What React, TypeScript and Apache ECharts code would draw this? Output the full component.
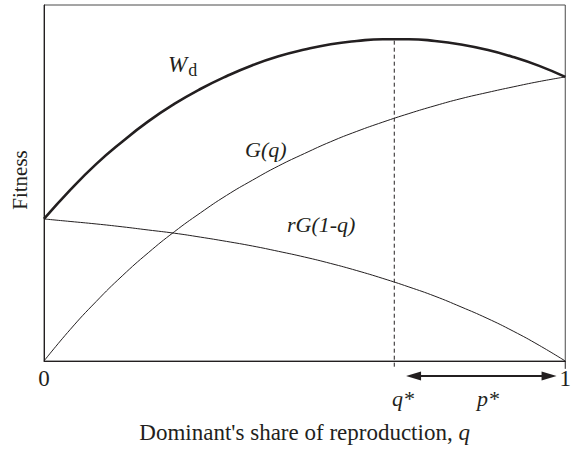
import React, { useEffect, useRef } from "react";
import * as echarts from "echarts";

// Dominant's share of reproduction q (x positions of the sampled points)
const Q = [0, 0.05, 0.1, 0.15, 0.2, 0.25, 0.3, 0.35, 0.4, 0.45, 0.5, 0.55, 0.6, 0.65, 0.7, 0.75, 0.8, 0.85, 0.9, 0.95, 1];
// G(q)
const G_VALUES = [0, 0.088, 0.167, 0.239, 0.304, 0.363, 0.416, 0.465, 0.508, 0.548, 0.583, 0.616, 0.645, 0.671, 0.695, 0.717, 0.737, 0.754, 0.770, 0.785, 0.798];
// rG(1-q)
const RG_VALUES = [0.399, 0.392, 0.385, 0.377, 0.368, 0.359, 0.348, 0.336, 0.323, 0.308, 0.292, 0.274, 0.254, 0.232, 0.208, 0.182, 0.152, 0.120, 0.084, 0.044, 0];
// W_d
const WD_VALUES = [0.399, 0.480, 0.553, 0.616, 0.673, 0.722, 0.764, 0.800, 0.831, 0.856, 0.875, 0.890, 0.899, 0.904, 0.904, 0.899, 0.889, 0.874, 0.854, 0.829, 0.798];
const Q_STAR = 0.672;
const WD_STAR = 0.905;
const X_TICK_LABELS = ["0", "1"];
// p* double arrow (centres of the two arrow heads, in q units)
const ARROW_FROM = 0.709;
const ARROW_TO = 0.969;
const ARROW_LEVEL = -0.042;

const INK = "#231f20";
const SERIF = "'Liberation Serif', 'DejaVu Serif', serif";

export default function App() {
  const ref = useRef<HTMLDivElement>(null);
  useEffect(() => {
    if (!ref.current) return;
    const chart = echarts.init(ref.current, undefined, { renderer: "svg" });
    const pair = (ys: number[]) => Q.map((q, i) => [q, ys[i]]);
    chart.setOption({
      animation: false,
      backgroundColor: "#ffffff",
      grid: { left: 44, right: 3, top: 5, bottom: 87, show: true, borderColor: "#4a4a4a", borderWidth: 1 },
      xAxis: {
        type: "value",
        min: 0,
        max: 1,
        interval: 1,
        name: "Dominant's share of reproduction, {i|q}",
        nameLocation: "middle",
        nameGap: 60,
        nameTextStyle: {
          fontFamily: SERIF,
          fontSize: 23,
          color: INK,
          rich: { i: { fontFamily: SERIF, fontSize: 23, fontStyle: "italic", color: INK } },
        },
        axisLine: { show: true, lineStyle: { color: INK, width: 1 } },
        axisTick: { show: false },
        splitLine: { show: false },
        axisLabel: {
          formatter: (v: number) => (v === 0 ? X_TICK_LABELS[0] : v === 1 ? X_TICK_LABELS[1] : ""),
          fontFamily: SERIF,
          fontSize: 23,
          color: INK,
          margin: 6,
          showMaxLabel: true,
          showMinLabel: true,
        },
      },
      yAxis: {
        type: "value",
        min: 0,
        max: 1,
        interval: 1,
        axisLine: { show: true, lineStyle: { color: INK, width: 1 } },
        axisTick: { show: false },
        axisLabel: { show: false },
        splitLine: { show: false },
      },
      series: [
        {
          name: "Wd",
          type: "line",
          smooth: true,
          showSymbol: false,
          data: pair(WD_VALUES),
          lineStyle: { color: INK, width: 2.6 },
        },
        {
          name: "G(q)",
          type: "line",
          smooth: true,
          showSymbol: false,
          data: pair(G_VALUES),
          lineStyle: { color: INK, width: 1 },
        },
        {
          name: "rG(1-q)",
          type: "line",
          smooth: true,
          showSymbol: false,
          data: pair(RG_VALUES),
          lineStyle: { color: INK, width: 1 },
        },
        {
          name: "qstar",
          type: "line",
          showSymbol: false,
          clip: false,
          data: [[Q_STAR, -0.016], [Q_STAR, WD_STAR]],
          lineStyle: { color: INK, width: 1, type: [4, 3] },
        },
        {
          name: "righttick",
          type: "line",
          showSymbol: false,
          clip: false,
          data: [[1, 0], [1, -0.022]],
          lineStyle: { color: INK, width: 1 },
        },
        {
          name: "pstar",
          type: "line",
          clip: false,
          showSymbol: true,
          symbol: "triangle",
          symbolSize: [9, 15],
          itemStyle: { color: INK },
          lineStyle: { color: INK, width: 2 },
          data: [
            { value: [ARROW_FROM, ARROW_LEVEL], symbolRotate: 90 },
            { value: [ARROW_TO, ARROW_LEVEL], symbolRotate: -90 },
          ],
        },
      ],
      graphic: [
        {
          type: "text",
          x: 20,
          y: 180,
          rotation: Math.PI / 2,
          style: {
            text: "Fitness",
            fontFamily: SERIF,
            fontSize: 21,
            fill: INK,
            textAlign: "center",
            textVerticalAlign: "middle",
          },
        },
        {
          type: "text",
          left: 168,
          top: 53,
          style: {
            text: "{w|W}{d|d}",
            rich: {
              w: { fontFamily: SERIF, fontSize: 23, fontStyle: "italic", fill: INK },
              d: { fontFamily: SERIF, fontSize: 18, fill: INK, padding: [11, 0, 0, 1] },
            },
          },
        },
        {
          type: "text",
          left: 245,
          top: 138,
          style: { text: "G(q)", fontFamily: SERIF, fontSize: 22, fontStyle: "italic", fill: INK },
        },
        {
          type: "text",
          left: 287,
          top: 213,
          style: { text: "rG(1-q)", fontFamily: SERIF, fontSize: 22, fontStyle: "italic", fill: INK },
        },
        {
          type: "text",
          left: 392,
          top: 387,
          style: { text: "q*", fontFamily: SERIF, fontSize: 22, fontStyle: "italic", fill: INK, lineHeight: 22 },
        },
        {
          type: "text",
          left: 477,
          top: 387,
          style: { text: "p*", fontFamily: SERIF, fontSize: 22, fontStyle: "italic", fill: INK, lineHeight: 22 },
        },
      ],
    });
    return () => chart.dispose();
  }, []);
  return <div ref={ref} style={{ position: "absolute", left: 0, top: 0, width: 574, height: 449 }} />;
}
